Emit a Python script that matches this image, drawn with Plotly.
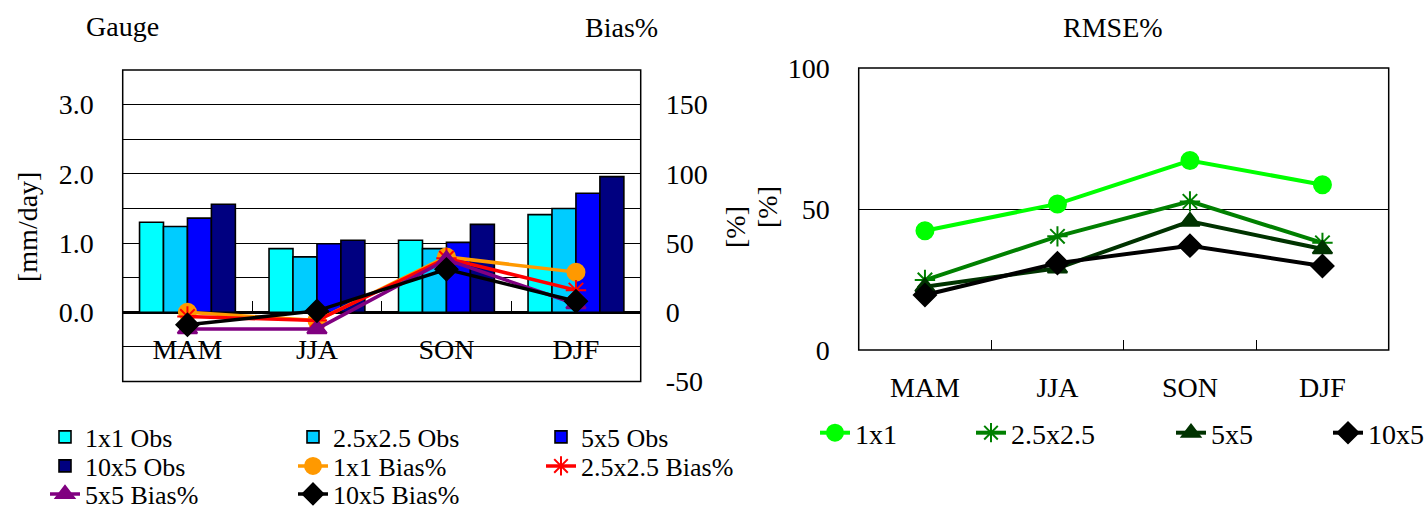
import plotly.graph_objects as go

W, H = 1424, 509
FONT = "Liberation Serif"
FS = 28
LEGEND_FS = 26

seasons = ["MAM", "JJA", "SON", "DJF"]

# Seasonal gauge precipitation [mm/day]
obs_1x1 = [1.30, 0.92, 1.04, 1.41]
obs_2p5 = [1.24, 0.80, 0.92, 1.50]
obs_5x5 = [1.36, 0.99, 1.01, 1.72]
obs_10x5 = [1.56, 1.04, 1.27, 1.96]

# Bias [%]
bias_1x1 = [0, -6, 40, 29]
bias_2p5 = [-3, -6, 39, 16]
bias_5x5 = [-12, -12, 38, 6]
bias_10x5 = [-9, 1, 31, 8]

# RMSE [%]
rmse_1x1 = [42.3, 51.8, 67.2, 58.6]
rmse_2p5 = [24.8, 40.3, 52.7, 38.0]
rmse_5x5 = [22.4, 29.0, 45.6, 35.8]
rmse_10x5 = [19.5, 30.8, 37.0, 29.8]

# Axis settings
gauge_range = [-1.0, 3.5]
gauge_ticks = [-0.5, 0.0, 0.5, 1.0, 1.5, 2.0, 2.5, 3.0]
gauge_ticktext = ["", "0.0", "", "1.0", "", "2.0", "", "3.0"]
bias_range = [-50, 175]
bias_ticks = [-50, 0, 50, 100, 150]
bias_ticktext = ["-50", "0", "50", "100", "150"]
rmse_range = [0, 100]
rmse_ticks = [0, 50, 100]


def fx(p):
    return p / W


def fy(p):
    return 1 - p / H


# plot boxes in pixels: left, right, top, bottom
LBOX = (122.7, 640.7, 70.0, 381.5)
RBOX = (858.7, 1388.7, 68.0, 350.0)

fig = go.Figure()

bar_series = [
    ("1x1 Obs", obs_1x1, "#00FFFF", "legend"),
    ("2.5x2.5 Obs", obs_2p5, "#00CCFF", "legend"),
    ("5x5 Obs", obs_5x5, "#0000FF", "legend"),
    ("10x5 Obs", obs_10x5, "#000080", "legend2"),
]
for name, vals, col, lg in bar_series:
    fig.add_trace(go.Bar(
        x=seasons, y=vals, name=name, xaxis="x", yaxis="y", legend=lg,
        marker=dict(color=col, line=dict(color="black", width=1.6)),
    ))

bias_series = [
    ("1x1 Bias%", bias_1x1, "#FF9900", "circle", 17, "legend2"),
    ("2.5x2.5 Bias%", bias_2p5, "#FF0000", "asterisk-open", 17, "legend2"),
    ("5x5 Bias%", bias_5x5, "#800080", "triangle-up", 17, "legend3"),
    ("10x5 Bias%", bias_10x5, "#000000", "diamond", 17, "legend3"),
]
for name, vals, col, sym, sz, lg in bias_series:
    fig.add_trace(go.Scatter(
        x=seasons, y=vals, name=name, xaxis="x", yaxis="y2", legend=lg,
        mode="lines+markers",
        line=dict(color=col, width=3.5),
        marker=dict(symbol=sym, size=sz, color=col, line=dict(color=col, width=2)),
    ))

rmse_series = [
    ("1x1", rmse_1x1, "#00FF00", "circle", 111),
    ("2.5x2.5", rmse_2p5, "#008000", "asterisk-open", 155),
    ("5x5", rmse_5x5, "#003300", "triangle-up", 112),
    ("10x5", rmse_10x5, "#000000", "diamond", 60),
]
for name, vals, col, sym, lw in rmse_series:
    fig.add_trace(go.Scatter(
        x=seasons, y=vals, name=name, xaxis="x2", yaxis="y3", legend="legend4",
        legendwidth=lw, mode="lines+markers",
        line=dict(color=col, width=4),
        marker=dict(symbol=sym, size=17, color=col, line=dict(color=col, width=2)),
    ))

# left subplot geometry: category axis sits on the zero line
ly0, ly1 = fy(LBOX[3]), fy(LBOX[2])
zero_pos = ly0 + (0 - gauge_range[0]) / (gauge_range[1] - gauge_range[0]) * (ly1 - ly0)

tick_font = dict(family=FONT, size=FS, color="black")

fig.update_layout(
    width=W, height=H,
    margin=dict(l=0, r=0, t=0, b=0, autoexpand=False),
    paper_bgcolor="white", plot_bgcolor="white",
    font=dict(family=FONT, size=FS, color="black"),
    barmode="group", bargap=0.26, bargroupgap=0,
    xaxis=dict(
        domain=[fx(LBOX[0]), fx(LBOX[1])], anchor="free", position=zero_pos,
        type="category", range=[-0.5, 3.5], showgrid=False,
        showline=True, linecolor="black", linewidth=3, layer="below traces",
        ticks="inside", tickson="boundaries", ticklen=10, tickcolor="black",
        tickwidth=1, tickfont=tick_font, ticklabelstandoff=11,
    ),
    yaxis=dict(
        domain=[ly0, ly1], anchor="x", range=gauge_range,
        tickvals=gauge_ticks, ticktext=gauge_ticktext, tickfont=tick_font,
        showgrid=True, gridcolor="black", gridwidth=1, zeroline=False,
        ticks="", ticklabelstandoff=28, showline=False,
    ),
    yaxis2=dict(
        overlaying="y", side="right", anchor="x", range=bias_range,
        tickvals=bias_ticks, ticktext=bias_ticktext, tickfont=tick_font,
        showgrid=False, zeroline=False, ticks="", ticklabelstandoff=24,
        showline=False,
    ),
    xaxis2=dict(
        domain=[fx(RBOX[0]), fx(RBOX[1])], anchor="y3",
        type="category", range=[-0.5, 3.5], showgrid=False, showline=False,
        ticks="inside", tickson="boundaries", ticklen=10, tickcolor="black",
        tickwidth=1, tickfont=tick_font, ticklabelstandoff=18,
    ),
    yaxis3=dict(
        domain=[fy(RBOX[3]), fy(RBOX[2])], anchor="x2", range=rmse_range,
        tickvals=rmse_ticks, tickfont=tick_font, showgrid=True,
        gridcolor="black", gridwidth=1, zeroline=False, ticks="",
        ticklabelstandoff=28, showline=False,
    ),
    shapes=[
        dict(type="rect", xref="x domain", yref="y domain", x0=0, x1=1, y0=0, y1=1,
             line=dict(color="black", width=1.5), layer="above"),
        dict(type="rect", xref="x2 domain", yref="y3 domain", x0=0, x1=1, y0=0, y1=1,
             line=dict(color="black", width=1.5), layer="above"),
    ],
)

legend_common = dict(
    orientation="h", xanchor="left", yanchor="middle", bgcolor="rgba(0,0,0,0)",
    font=dict(family=FONT, size=LEGEND_FS, color="black"), entrywidth=203,
    traceorder="normal", itemwidth=30,
)
fig.update_layout(
    legend=dict(legend_common, x=fx(45), y=fy(437)),
    legend2=dict(legend_common, x=fx(45), y=fy(466)),
    legend3=dict(legend_common, x=fx(45), y=fy(494)),
    legend4=dict(orientation="h", xanchor="left", yanchor="middle",
                 bgcolor="rgba(0,0,0,0)", font=dict(family=FONT, size=FS, color="black"),
                 traceorder="normal", x=fx(815), y=fy(433)),
)

ann = [
    ("Gauge", 122, 26, 0),
    ("Bias%", 621, 27, 0),
    ("RMSE%", 1113, 27, 0),
    ("[mm/day]", 27, 227, -90),
    ("[%]", 735, 227, -90),
    ("[%]", 768, 207, -90),
]
for text, px, py, ang in ann:
    fig.add_annotation(
        text=text, x=fx(px), y=fy(py), xref="paper", yref="paper",
        xanchor="center", yanchor="middle", showarrow=False, textangle=ang,
        font=dict(family=FONT, size=FS, color="black"),
    )

fig.write_html("out.html")
